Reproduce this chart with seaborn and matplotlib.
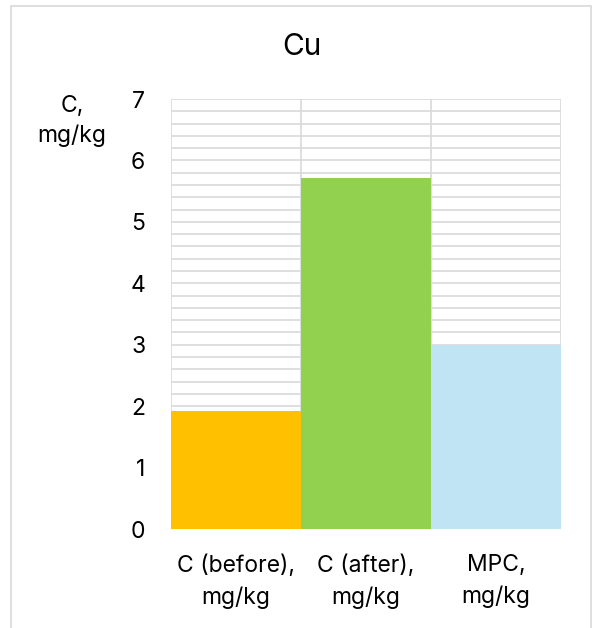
import matplotlib
matplotlib.use("Agg")
import matplotlib.pyplot as plt
import seaborn as sns
import pandas as pd
from matplotlib.patches import Rectangle

categories = ["C (before),\nmg/kg", "C (after),\nmg/kg", "MPC,\nmg/kg"]
values = [1.92, 5.72, 3.0]
colors = ["#FFC000", "#92D050", "#C1E4F5"]
y_ticks = [0, 1, 2, 3, 4, 5, 6, 7]

sns.set_theme(style="white")
plt.rcParams['font.family'] = ['Inter', 'DejaVu Sans']

df = pd.DataFrame({"cat": categories, "val": values})

fig = plt.figure(figsize=(5.97, 6.28), dpi=100)
ax = fig.add_axes([171/597, 1-529/628, (561-171)/597, (529-99)/628])

grid_c = "#d9d9d9"
FS = 16.5
for i in range(0, 36):
    ax.axhline(i * 0.2, color=grid_c, lw=1.2, zorder=0)
for xv in [-0.5, 0.5, 1.5, 2.5]:
    ax.axvline(xv, color=grid_c, lw=1.2, zorder=0)

sns.barplot(data=df, x="cat", y="val", hue="cat", palette=colors, width=1.0,
            legend=False, ax=ax, zorder=2, saturation=1, linewidth=0)
ax.set_xlim(-0.5, 2.5)
ax.set_ylim(0, 7)
ax.set_yticks(y_ticks)
ax.set_yticklabels([str(t) for t in y_ticks], fontsize=FS, color="#000000")
ax.tick_params(axis="y", length=0, pad=18.5)
ax.tick_params(axis="x", length=0, pad=18)
for lbl in ax.get_xticklabels():
    lbl.set_fontsize(FS)
    lbl.set_linespacing(1.55)
    lbl.set_color("#000000")
ax.set_xlabel("")
ax.set_ylabel("")
for s in ax.spines.values():
    s.set_visible(False)

fig.text(72/597, 1-121/628, "C,\nmg/kg", ha="center", va="center", fontsize=FS,
         linespacing=1.4, color="#000000")
fig.text(302/597, 1-47/628, "Cu", ha="center", va="center", fontsize=21.5, color="#000000")

frame = Rectangle((11/597, -0.05), (591-11)/597, 1.05 - 6/628, transform=fig.transFigure,
                  fill=False, edgecolor="#d9d9d9", lw=1.2, clip_on=False)
fig.patches.append(frame)

fig.savefig("out.png", dpi=100)
